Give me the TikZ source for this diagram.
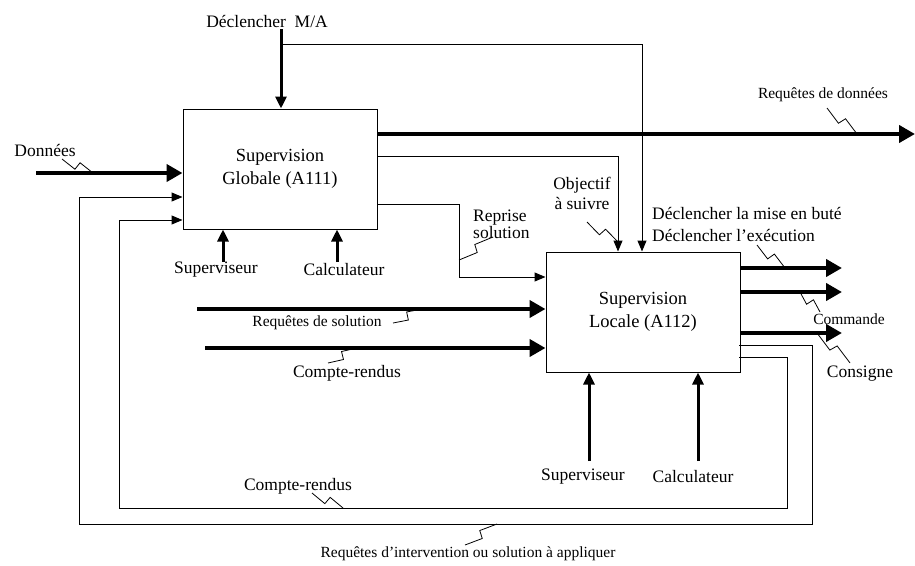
\documentclass[tikz,border=0pt]{standalone}
\usepackage{fontspec}
\setmainfont{Liberation Serif}
\usetikzlibrary{arrows.meta,calc}

\tikzset{
  boite/.style={draw,line width=1pt,minimum width=194pt,minimum height=120pt,align=center,font=\fontsize{18.5}{23}\selectfont},
  fin/.style={line width=1pt,-{Triangle[length=11pt,width=9pt]}},
  moyen/.style={line width=3pt,-{Triangle[length=12pt,width=11pt]}},
  epais/.style={line width=4.5pt,-{Triangle[length=16pt,width=17pt]}},
  lbl/.style={inner sep=0pt,font=\fontsize{17.5}{20}\selectfont},
  petit/.style={inner sep=0pt,font=\fontsize{15.5}{18}\selectfont},
}
\newcommand{\eclair}[2]{\draw[line width=0.8pt] (#1) -- ($(#1)!0.47!(#2)!4pt!-90:(#2)$) -- ($(#1)!0.53!(#2)!4pt!90:(#2)$) -- (#2);}

\begin{document}
\begin{tikzpicture}[x=1pt,y=-1pt]
\useasboundingbox (0,0) rectangle (915,565);

% les deux boites
\node[boite] (glob) at (280,169) {Supervision\\Globale (A111)};
\node[boite] (loc) at (643,312) {Supervision\\Locale (A112)};

% points de passage
\coordinate (ma0) at (281,29);
\coordinate (ma1) at (281,44);
\coordinate (ma2) at (642,44);
\coordinate (don0) at (36,173);
\coordinate (rd0) at (377,134);
\coordinate (rd1) at (915,134);
\coordinate (ob0) at (377,156);
\coordinate (ob1) at (618,156);
\coordinate (rp0) at (377,204);
\coordinate (rp1) at (459,204);
\coordinate (rp2) at (459,277);
\coordinate (rs0) at (197,309);
\coordinate (cr0) at (205,348);
\coordinate (ri0) at (739,345);
\coordinate (ri1) at (812,345);
\coordinate (ri2) at (812,524);
\coordinate (ri3) at (79,524);
\coordinate (ri4) at (79,197);
\coordinate (cb0) at (739,357);
\coordinate (cb1) at (787,357);
\coordinate (cb2) at (787,508);
\coordinate (cb3) at (119,508);
\coordinate (cb4) at (119,220);
\coordinate (s1) at (223,262);
\coordinate (c1) at (337,262);
\coordinate (s2) at (589,461);
\coordinate (c2) at (698,461);
\coordinate (o1) at (842,268);
\coordinate (o2) at (842,292);
\coordinate (o3) at (842,333);

% textes
\node[lbl] (ma) at (267,22) {Déclencher\ \ M/A};
\node[lbl] (don) at (45,150) {Données};
\node[petit] (rqd) at (823,95) {Requêtes de données};
\node[lbl,align=center,font=\fontsize{17.5}{20}\selectfont] (obj) at (582,193) {Objectif\\à suivre};
\node[lbl,align=left,anchor=west,font=\fontsize{17.5}{14}\selectfont] (rep) at (473,224) {Reprise\\solution};
\node[lbl,align=left,anchor=west,font=\fontsize{17.5}{22}\selectfont] (decl) at (652,224) {Déclencher la mise en buté\\Déclencher l’exécution};
\node[lbl] (sup1) at (216,270) {Superviseur};
\node[lbl] (calc1) at (344,270) {Calculateur};
\node[petit] (rqs) at (317,323) {Requêtes de solution};
\node[lbl] (cr1) at (347,373) {Compte-rendus};
\node[petit] (com) at (849,319) {Commande};
\node[lbl] (cons) at (860,374) {Consigne};
\node[lbl] (sup2) at (583,477) {Superviseur};
\node[lbl] (calc2) at (693,477) {Calculateur};
\node[lbl] (cr2) at (298,486) {Compte-rendus};
\node[petit] (rqi) at (468,554) {Requêtes d’intervention ou solution à appliquer};

% fleches
\draw[moyen] (ma0) -- (ma0 |- glob.north);
\draw[fin] (ma1) -- (ma2) -- (ma2 |- loc.north);
\draw[epais] (don0) -- (don0 -| glob.west);
\draw[fin] (ob0) -- (ob1) -- (ob1 |- loc.north);
\draw[fin] (rp0) -- (rp1) -- (rp2) -- (rp2 -| loc.west);
\draw[epais] (rd0) -- (rd1);
\draw[epais] (rs0) -- (rs0 -| loc.west);
\draw[epais] (cr0) -- (cr0 -| loc.west);
\draw[fin] (ri0) -- (ri1) -- (ri2) -- (ri3) -- (ri4) -- (ri4 -| glob.west);
\draw[fin] (cb0) -- (cb1) -- (cb2) -- (cb3) -- (cb4) -- (cb4 -| glob.west);
\draw[moyen] (s1) -- (s1 |- glob.south);
\draw[moyen] (c1) -- (c1 |- glob.south);
\draw[moyen] (s2) -- (s2 |- loc.south);
\draw[moyen] (c2) -- (c2 |- loc.south);
\draw[epais] (o1 -| loc.east) -- (o1);
\draw[epais] (o2 -| loc.east) -- (o2);
\draw[epais] (o3 -| loc.east) -- (o3);

% eclairs
\eclair{62,159}{93,173}
\eclair{827,108}{857,134}
\eclair{587,222}{618,242}
\eclair{493,237}{459,260}
\eclair{757,245}{785,268}
\eclair{800,292}{820,312}
\eclair{817,333}{850,363}
\eclair{393,323}{422,309}
\eclair{328,363}{357,348}
\eclair{312,493}{343,508}
\eclair{497,524}{465,545}
\end{tikzpicture}
\end{document}
